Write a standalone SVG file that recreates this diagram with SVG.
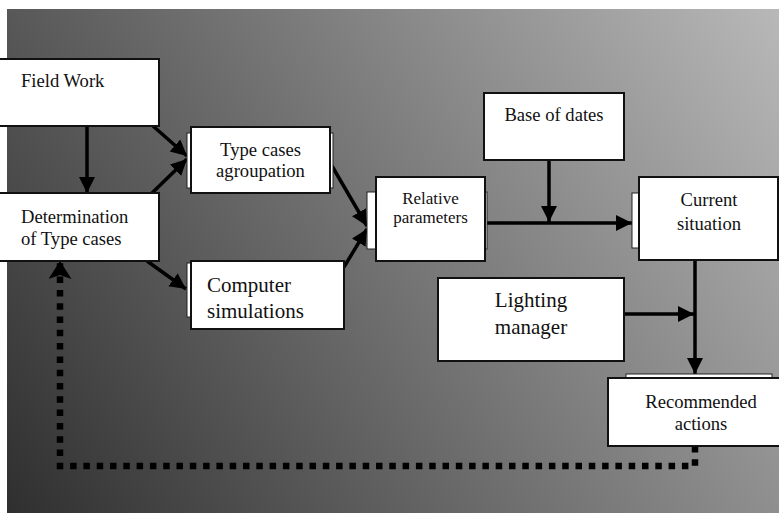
<svg xmlns="http://www.w3.org/2000/svg" width="779" height="513" viewBox="0 0 779 513">
  <defs>
    <linearGradient id="bg" gradientUnits="userSpaceOnUse" x1="7" y1="513" x2="779" y2="9">
      <stop offset="0" stop-color="#2f2f2f"/>
      <stop offset="1" stop-color="#b8b8b8"/>
    </linearGradient>
    <marker id="arrow" markerUnits="userSpaceOnUse" markerWidth="18" markerHeight="18" refX="16" refY="8" orient="auto">
      <path d="M0,0 L16,8 L0,16 z" fill="#000"/>
    </marker>
    <marker id="arrowWide" markerUnits="userSpaceOnUse" markerWidth="20" markerHeight="24" refX="18" refY="11.5" orient="auto">
      <path d="M0,0 L18,11.5 L0,23 L4,11.5 z" fill="#000"/>
    </marker>
  </defs>
  <style>
    .box { fill: #fff; stroke: #111; stroke-width: 2; }
    .back { fill: #fff; stroke: #222; stroke-width: 1; }
    text { font-family: 'Liberation Serif', 'DejaVu Serif', serif; fill: #111; }
    .md { font-size: 18.6px; }
    .lg { font-size: 21px; }
    .sm { font-size: 17px; }
    .mid { text-anchor: middle; }
    .link { fill: none; stroke: #000; stroke-width: 3.5; marker-end: url(#arrow); }
    .feedback { fill: none; stroke: #000; stroke-width: 6.5; stroke-dasharray: 6.5 6.8; marker-end: url(#arrowWide); }
  </style>

  <rect x="0" y="0" width="779" height="513" fill="#fff"/>
  <rect x="7" y="9" width="772" height="504" fill="url(#bg)"/>

  <g id="connectors">
    <line class="link" x1="87" y1="127" x2="87" y2="193"/>
    <line class="link" x1="153" y1="126" x2="187" y2="156"/>
    <line class="link" x1="152" y1="193" x2="187" y2="159"/>
    <line class="link" x1="147" y1="261" x2="186" y2="289"/>
    <line class="link" x1="332" y1="166" x2="367" y2="226"/>
    <line class="link" x1="344" y1="267" x2="367" y2="229"/>
    <line class="link" x1="487" y1="223" x2="632" y2="223"/>
    <line class="link" x1="549" y1="160" x2="549" y2="222"/>
    <line class="link" x1="624" y1="314" x2="694" y2="314"/>
    <line class="link" x1="695" y1="261" x2="695" y2="374"/>
    <path class="feedback" d="M695,446 V466 H60 V261"/>
  </g>

  <g id="field-work">
    <rect class="box" x="-5" y="59" width="164" height="67"/>
    <text class="md" x="21" y="87" font-family="Liberation Serif, serif">Field Work</text>
  </g>

  <g id="determination">
    <rect class="box" x="-5" y="193" width="164" height="68"/>
    <text class="md" x="21" y="223" font-family="Liberation Serif, serif">Determination</text>
    <text class="md" x="21" y="245" font-family="Liberation Serif, serif">of Type cases</text>
  </g>

  <g id="type-cases">
    <rect class="back" x="187" y="133" width="146" height="55"/>
    <rect class="box" x="191" y="127" width="139" height="66"/>
    <text class="md mid" x="260.5" y="156" font-family="Liberation Serif, serif">Type cases</text>
    <text class="md mid" x="260.5" y="177" font-family="Liberation Serif, serif">agroupation</text>
  </g>

  <g id="computer-simulations">
    <rect class="back" x="187" y="263" width="153" height="54"/>
    <rect class="box" x="191" y="261" width="153" height="68"/>
    <text class="lg" x="207" y="292" font-family="Liberation Serif, serif">Computer</text>
    <text class="lg" x="207" y="318" font-family="Liberation Serif, serif">simulations</text>
  </g>

  <g id="relative-parameters">
    <rect class="back" x="367" y="192" width="120" height="57"/>
    <rect class="box" x="376" y="177" width="109" height="84"/>
    <text class="sm mid" x="430.5" y="204" font-family="Liberation Serif, serif">Relative</text>
    <text class="sm mid" x="430.5" y="223" font-family="Liberation Serif, serif">parameters</text>
  </g>

  <g id="base-of-dates">
    <rect class="box" x="484" y="93" width="140" height="67"/>
    <text class="md mid" x="554" y="121" font-family="Liberation Serif, serif">Base of dates</text>
  </g>

  <g id="current-situation">
    <rect class="back" x="632" y="193" width="146" height="55"/>
    <rect class="box" x="639" y="177" width="139" height="83"/>
    <text class="md mid" x="709" y="206" font-family="Liberation Serif, serif">Current</text>
    <text class="md mid" x="709" y="230" font-family="Liberation Serif, serif">situation</text>
  </g>

  <g id="lighting-manager">
    <rect class="box" x="438" y="278" width="186" height="83"/>
    <text class="lg mid" x="531" y="307" font-family="Liberation Serif, serif">Lighting</text>
    <text class="lg mid" x="531" y="334" font-family="Liberation Serif, serif">manager</text>
  </g>

  <g id="recommended-actions">
    <rect class="back" x="626" y="374" width="146" height="50"/>
    <rect class="box" x="608" y="378" width="172" height="68"/>
    <text class="md mid" x="701" y="408" font-family="Liberation Serif, serif">Recommended</text>
    <text class="md mid" x="701" y="430" font-family="Liberation Serif, serif">actions</text>
  </g>
</svg>
